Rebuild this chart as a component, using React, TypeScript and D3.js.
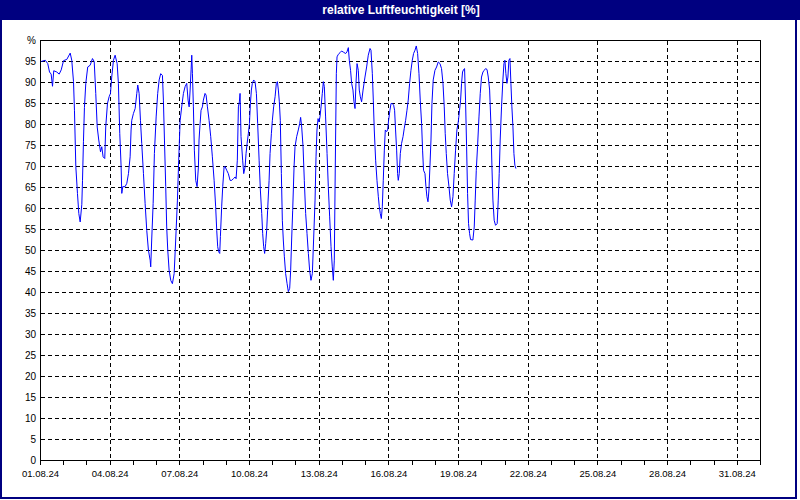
import React, { useEffect, useRef } from "react";
import * as d3 from "d3";

const TITLE = "relative Luftfeuchtigkeit [%]";
const START_DAY = "2024-08-01";
const END_DAY = "2024-09-01";
const Y_TICKS = [0, 5, 10, 15, 20, 25, 30, 35, 40, 45, 50, 55, 60, 65, 70, 75, 80, 85, 90, 95];
const Y_TOP_LABEL = "%";
const X_LABEL_EVERY_DAYS = 3;

// hours since 01.08.24 00:00
const HOURS = [
  0.7, 4.9, 7.5, 9.3, 11, 12.4, 13.7, 16.8, 19.3, 21.4, 23.8, 27.2, 30.7, 32.3, 34.1, 35.1, 36.5, 38.2, 39.6, 41,
  42.7, 43.4, 44.4, 45.4, 46.8, 48.8, 51.3, 53.7, 55.5, 57.1, 58.6, 60.2, 62, 63.3, 64.7, 66.4, 67.4, 69.2, 70.9, 72.3,
  73.6, 75.4, 77.1, 79.2, 80.5, 81.9, 83.3, 84, 85, 87.4, 89.2, 90.9, 92.6, 93.6, 94.3, 96, 97.8, 99.5, 100.5, 101.9,
  103.3, 104.6, 106.4, 108.1, 109.8, 111.5, 113.3, 113.9, 114.9, 116.4, 117.7, 119.5, 121.1, 122.6, 124.2, 126, 127, 128.1, 129.4, 130.4,
  131.5, 132.9, 134.6, 136.3, 138.1, 139.7, 141.5, 142.8, 144.3, 145.9, 147.7, 149.4, 151.1, 152.5, 153.6, 154.6, 155.6, 156.3, 157, 158,
  159, 160.4, 161.8, 163.2, 163.8, 164.9, 165.9, 167.3, 168.3, 170, 171.1, 172.5, 174.2, 175.9, 177.6, 179.4, 181, 182.1, 183.1, 184.1,
  185.2, 185.9, 187.2, 188.3, 189.7, 190.7, 192.4, 194.1, 195.9, 197.6, 199.3, 201.1, 202.1, 203.4, 204.5, 205.5, 206.2, 207.2, 208.9, 210,
  211.4, 212.4, 213.5, 214.8, 215.9, 216.9, 217.9, 218.9, 220.3, 221.7, 223.1, 224.4, 225.9, 227.2, 228.6, 229.6, 230.6, 231.6, 232.7, 233.7,
  234.7, 236.2, 237.2, 238.6, 239.6, 240.9, 242.4, 243.7, 244.8, 245.8, 246.8, 247.8, 248.9, 249.9, 250.9, 252, 253.3, 254.8, 256.1, 257.5,
  258.5, 259.5, 260.6, 262, 263, 264.7, 266.4, 267.8, 268.8, 269.9, 271.3, 272.6, 274, 275.4, 276.8, 278.1, 279.5, 280.9, 282.2, 283.7,
  284.7, 285.7, 286.8, 287.8, 288.8, 289.9, 291.2, 292.3, 293.3, 294.6, 296.1, 297.4, 298.8, 300.2, 301.5, 302.6, 303.6, 304.6, 305.7, 306.4,
  307.7, 309.5, 311.1, 313.2, 315.3, 316.7, 318.1, 319.1, 320.4, 321.5, 322.9, 323.9, 325, 326, 327.1, 328.4, 329.4, 330.5, 331.8, 333.3,
  335.3, 337, 338.7, 340.5, 341.5, 342.9, 343.9, 344.9, 346.3, 347.7, 349.1, 350.1, 351.1, 352.2, 353.2, 354.2, 355.3, 356.3, 357.6, 358.7,
  359.7, 361.1, 362.2, 363.5, 364.9, 365.9, 366.9, 368, 369, 369.7, 370.7, 371.8, 373.1, 374.6, 375.9, 377.3, 378.7, 380, 381.4, 382.8,
  384.2, 385.5, 387, 388.3, 389.7, 391.1, 392.4, 393.8, 394.8, 395.8, 397.3, 398.3, 399.3, 400.4, 401.4, 402.4, 403.5, 404.5, 405.8, 407.6,
  409.3, 411, 412.8, 414.4, 415.9, 417.2, 418.2, 419.3, 420.6, 422.1, 423.4, 424.8, 426.2, 427.5, 428.9, 430.3, 431.7, 433, 434.1, 435.1,
  436.1, 437.2, 438.2, 439.2, 440.3, 441.3, 442.3, 443.4, 444.4, 446.8, 448.2, 449.2, 450.3, 451.6, 453.1, 454.4, 455.7, 457.2, 458.5, 459.9,
  461.4, 462.7, 464.1, 465.4, 466.5, 467.5, 468.8, 470.2, 471.9, 473, 474, 475, 476.4, 477.8, 478.9, 479.9, 480.9, 482, 483, 484,
  485.1, 486.1, 487.1, 488.2, 489.2, 490.2, 491.3,
];

const HUMIDITY = [
  95, 95.3, 94.5, 92.5, 92, 89.1, 92.8, 92.5, 92, 93, 95.2, 95.5, 97, 95.3, 90.2, 83.4, 70, 63.6, 58.8, 56.8,
  61, 66.7, 76, 84, 89.8, 93.7, 94.1, 95.7, 95, 87.4, 79.4, 76.3, 73.5, 74.7, 72.3, 71.9, 79.4, 85, 86.6, 87.4,
  91.3, 95.3, 96.5, 94.5, 89.8, 77.9, 70, 63.6, 65.2, 65.2, 66, 68.3, 72.3, 78.7, 81, 82.6, 83.8, 87.4, 89.4, 87.4,
  81, 75.5, 68.3, 61.2, 54.8, 50.1, 47.7, 46.1, 52.5, 61.2, 73.1, 81.8, 87.4, 90.6, 92.1, 91.7, 85.8, 76.3, 65.2, 55.6,
  50.1, 45.3, 42.9, 42.1, 44.5, 52.5, 62, 71.5, 81, 84.2, 87.4, 89, 89.8, 85.8, 84.2, 88.2, 93, 96.5, 92.1, 84.2,
  73.9, 66.7, 65.2, 70, 76.3, 80.2, 83.4, 84.2, 85.8, 87.4, 87, 84.2, 81, 77.1, 72.3, 66.7, 60.4, 54.8, 50.9, 49.7,
  49.3, 53.3, 60.4, 65.2, 69.9, 70, 69.1, 68.3, 66.7, 66.7, 67.1, 67.5, 67.1, 71.5, 84.2, 85.4, 87.4, 77.1, 71.5, 68.3,
  69.9, 73.1, 75.5, 77.9, 80.2, 85, 88.2, 89.8, 90.6, 90.2, 87.4, 80.2, 71.5, 64.4, 58.8, 54, 50.9, 49.3, 51.7, 54.8,
  59.6, 66.7, 73.1, 77.9, 81, 84.2, 86.6, 89.8, 90.2, 88.2, 85.4, 81, 68.3, 57.2, 52.5, 48.5, 44.5, 42.1, 40.2, 41,
  45.3, 52.5, 59.6, 69.9, 74.7, 77.1, 78.7, 80.2, 81.7, 79.4, 74.7, 66.7, 58.8, 54, 49.3, 45.3, 42.9, 44.5, 52.5, 62,
  72.3, 78.7, 81.4, 80.6, 81.8, 84.2, 87.4, 90.2, 89, 81.8, 73.1, 65.2, 58, 50.9, 46.1, 42.9, 47.7, 69.9, 92.1, 96.1,
  96.7, 97.1, 97.5, 97.2, 96.9, 97.3, 98.3, 95.3, 92.9, 89.8, 88.2, 85.4, 83.8, 89.8, 94.5, 92.9, 88.2, 86.6, 85.4, 88.2,
  91.3, 93.7, 96.5, 98.1, 97.7, 92.1, 85.8, 78.7, 71.5, 66.7, 62.8, 60.4, 58.8, 57.6, 60.4, 66.7, 73.9, 78.7, 78.3, 78.7,
  81, 83.4, 85, 85, 84.6, 83.4, 78.7, 73.9, 68.3, 66.7, 68.3, 73.1, 75.5, 77.1, 79.1, 81, 83.4, 85.8, 89.8, 92.9,
  95.3, 96.9, 97.7, 98.7, 96.9, 92.1, 85.8, 80.2, 73.9, 69.1, 68.3, 65.2, 62.8, 61.6, 64.4, 69.9, 76.3, 85, 90.6, 92.9,
  93.7, 94.9, 94.5, 93.3, 89.8, 84.2, 77.9, 73.1, 68.3, 65.2, 62, 60.4, 62.8, 68.3, 73.9, 78.7, 80.6, 83.4, 85.8, 89.8,
  92.5, 93.1, 93.3, 85.8, 74.7, 63.6, 56.4, 54, 52.6, 52.5, 55.6, 62, 69.1, 74.7, 81.8, 87.4, 91.3, 92.5, 92.9, 93.3,
  93.1, 91.3, 88.2, 80.2, 69.9, 62, 57.2, 56, 56.4, 62, 68.3, 76.3, 84.2, 90.6, 94.5, 95.3, 92.1, 89.8, 91.3, 95.3,
  95.7, 89.8, 84.2, 79.4, 73.1, 70.3, 69.5,
];

const W = 800;
const H = 500;
const NAVY = "#000080";
const FONT = "'Liberation Sans', Arial, sans-serif";

export default function App() {
  const ref = useRef<SVGSVGElement>(null);

  useEffect(() => {
    document.body.style.margin = "0";
    const svg = d3.select(ref.current);
    svg.selectAll("*").remove();

    const left = 40.5, right = 760.5, top = 40.5, bottom = 460.5;
    const start = new Date(START_DAY + "T00:00:00Z");
    const end = new Date(END_DAY + "T00:00:00Z");
    const x = d3.scaleUtc().domain([start, end]).range([left, right]);
    const y = d3.scaleLinear().domain([0, 100]).range([bottom, top]);

    // background & frame
    svg.append("rect").attr("x", 0).attr("y", 0).attr("width", W).attr("height", H).attr("fill", "#ffffff");
    svg.append("rect").attr("x", 0).attr("y", 0).attr("width", W).attr("height", 20).attr("fill", NAVY);
    svg.append("rect").attr("x", 1).attr("y", 1).attr("width", 795).attr("height", 497)
      .attr("fill", "none").attr("stroke", NAVY).attr("stroke-width", 2);
    svg.append("text").attr("x", 401).attr("y", 14).attr("text-anchor", "middle")
      .attr("fill", "#ffffff").attr("font-family", FONT).attr("font-size", 12).attr("font-weight", "bold")
      .text(TITLE);

    const days = d3.utcDay.range(start, d3.utcDay.offset(end, 1));
    const labelDays = days.filter((d, i) => i % X_LABEL_EVERY_DAYS === 0);

    const g = svg.append("g");
    // horizontal grid
    g.selectAll("line.hg").data(Y_TICKS.filter((v) => v > 0)).join("line")
      .attr("x1", left).attr("x2", right)
      .attr("y1", (d) => Math.round(y(d) - 0.5) + 0.5).attr("y2", (d) => Math.round(y(d) - 0.5) + 0.5)
      .attr("stroke", "#000").attr("stroke-width", 1).attr("stroke-dasharray", "4,3")
      .attr("shape-rendering", "crispEdges");
    // vertical grid
    g.selectAll("line.vg").data(labelDays.slice(1)).join("line")
      .attr("x1", (d) => Math.round(x(d) - 0.5) + 0.5).attr("x2", (d) => Math.round(x(d) - 0.5) + 0.5)
      .attr("y1", top).attr("y2", bottom)
      .attr("stroke", "#000").attr("stroke-width", 1).attr("stroke-dasharray", "4,3")
      .attr("shape-rendering", "crispEdges");

    // plot frame
    g.append("rect").attr("x", left).attr("y", top).attr("width", right - left).attr("height", bottom - top)
      .attr("fill", "none").attr("stroke", "#000").attr("stroke-width", 1).attr("shape-rendering", "crispEdges");

    // day ticks
    g.selectAll("line.tk").data(days).join("line")
      .attr("x1", (d) => Math.round(x(d) - 0.5) + 0.5).attr("x2", (d) => Math.round(x(d) - 0.5) + 0.5)
      .attr("y1", bottom).attr("y2", bottom + 4)
      .attr("stroke", "#000").attr("stroke-width", 1).attr("shape-rendering", "crispEdges");

    const fmt = d3.utcFormat("%d.%m.%y");
    g.selectAll("text.xl").data(labelDays).join("text")
      .attr("x", (d) => x(d)).attr("y", 477).attr("text-anchor", "middle")
      .attr("font-family", FONT).attr("font-size", 9.5).attr("fill", "#000")
      .text((d) => fmt(d));

    g.selectAll("text.yl").data(Y_TICKS).join("text")
      .attr("x", 36).attr("y", (d) => y(d) + 3.5).attr("text-anchor", "end")
      .attr("font-family", FONT).attr("font-size", 10).attr("fill", "#000")
      .text((d) => String(d));
    g.append("text").attr("x", 36).attr("y", y(100) + 3.5).attr("text-anchor", "end")
      .attr("font-family", FONT).attr("font-size", 10).attr("fill", "#000").text(Y_TOP_LABEL);

    // data line
    const data = HOURS.map((h, i) => ({ t: new Date(start.getTime() + h * 3600e3), v: HUMIDITY[i] }));
    const line = d3.line<{ t: Date; v: number }>().x((d) => x(d.t)).y((d) => y(d.v));
    g.append("path").datum(data).attr("d", line).attr("fill", "none")
      .attr("stroke", "#0000ff").attr("stroke-width", 1);
  }, []);

  return <svg ref={ref} width={W} height={H} style={{ display: "block" }} />;
}
